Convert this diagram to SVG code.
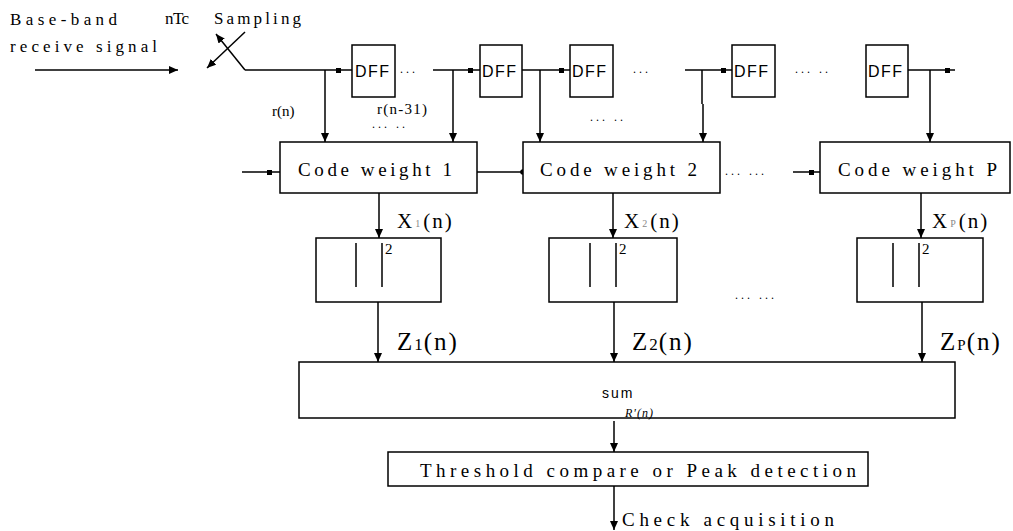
<svg xmlns="http://www.w3.org/2000/svg" width="1013" height="531" viewBox="0 0 1013 531">
  <defs>
    <marker id="arr" markerUnits="userSpaceOnUse" markerWidth="10" markerHeight="8" refX="9" refY="4" orient="auto">
      <path d="M0,0 L9,4 L0,8 z" fill="#000"/>
    </marker>
    <style>
      .ln{stroke:#000;stroke-width:1.5;fill:none}
      .ar{stroke:#000;stroke-width:1.5;fill:none;marker-end:url(#arr)}
      .box{fill:#fff;stroke:#000;stroke-width:1.5}
      .t{font-family:"Liberation Serif",serif;fill:#000}
      .s{font-family:"Liberation Sans",sans-serif;fill:#000}
      .dot{fill:#000}
      .lbl{font-family:"Liberation Serif",serif;fill:#000;font-size:21px;letter-spacing:2px}
      .zl{font-family:"Liberation Serif",serif;fill:#000;font-size:25px;letter-spacing:2px}
      .sub{fill:#888;font-size:10px}
      .dff{font-family:"Liberation Sans",sans-serif;font-size:16px;fill:#000;letter-spacing:1.5px}
      .cw{font-family:"Liberation Serif",serif;font-size:19px;fill:#000}
      .el{font-family:"Liberation Serif",serif;font-size:12px;fill:#000;letter-spacing:3px}
    </style>
  </defs>
  <rect width="1013" height="531" fill="#fff"/>

  <!-- input labels -->
  <text class="t" x="10" y="25" font-size="17" textLength="107" lengthAdjust="spacing">Base-band</text>
  <text class="t" x="10" y="52" font-size="17" textLength="147" lengthAdjust="spacing">receive signal</text>
  <text class="t" x="165" y="24" font-size="17" textLength="24" lengthAdjust="spacing">nTc</text>
  <text class="t" x="214" y="24" font-size="17" textLength="87" lengthAdjust="spacing">Sampling</text>

  <!-- connectors -->
  <g id="connectors">
    <path class="ar" d="M35,70 H178"/>
    <path class="ar" d="M245,70 L216,34"/>
    <path class="ar" d="M245,32 L207,68"/>
    <path class="ln" d="M245,70 H352"/>
    <path class="ln" d="M433,70 H480"/>
    <path class="ln" d="M522,70 H570"/>
    <path class="ln" d="M685,70 H732"/>
    <path class="ln" d="M908,70 H955"/>
    <rect class="dot" x="336" y="68" width="5" height="5"/>
    <rect class="dot" x="468" y="68" width="5" height="5"/>
    <rect class="dot" x="559" y="68" width="5" height="5"/>
    <rect class="dot" x="721" y="68" width="5" height="5"/>
    <rect class="dot" x="945" y="68" width="5" height="5"/>
    <path class="ar" d="M325,70 V142"/>
    <path class="ar" d="M453,70 V142"/>
    <path class="ar" d="M540,70 V142"/>
    <path class="ln" d="M702,70 V104"/>
    <path class="ar" d="M703,104 V142"/>
    <path class="ar" d="M930,70 V142"/>
    <path class="ln" d="M242,172 H280"/>
    <rect class="dot" x="267" y="170" width="5" height="5"/>
    <path class="ln" d="M477,172 H523"/>
    <circle class="dot" cx="523" cy="172" r="2.8"/>
    <path class="ln" d="M793,172 H820"/>
    <rect class="dot" x="809" y="170" width="5" height="5"/>
    <path class="ar" d="M379,193 V238"/>
    <path class="ar" d="M613,193 V238"/>
    <path class="ar" d="M921,193 V238"/>
    <path class="ar" d="M378,302 V362"/>
    <path class="ar" d="M614,302 V362"/>
    <path class="ar" d="M922,302 V362"/>
    <path class="ar" d="M614,421 V452"/>
    <path class="ar" d="M614,486 V530"/>
  </g>

  <!-- tap labels and ellipses -->
  <text class="t" x="272" y="116" font-size="15">r(n)</text>
  <text class="t" x="377" y="114" font-size="15" textLength="50" lengthAdjust="spacing">r(n-31)</text>
  <text class="el" x="372" y="128">... ..</text>
  <text class="el" x="590" y="121">... ..</text>
  <text class="el" x="400" y="73">...</text>
  <text class="el" x="633" y="73">...</text>
  <text class="el" x="795" y="73">... ..</text>
  <text class="el" x="725" y="175">... ...</text>
  <text class="el" x="735" y="299">... ...</text>

  <!-- delay line -->
  <g id="dff1"><rect class="box" x="352" y="45" width="43" height="52"/><text class="dff" x="355" y="77">DFF</text></g>
  <g id="dff2"><rect class="box" x="480" y="45" width="42" height="52"/><text class="dff" x="482" y="77">DFF</text></g>
  <g id="dff3"><rect class="box" x="570" y="45" width="43" height="52"/><text class="dff" x="572" y="77">DFF</text></g>
  <g id="dff4"><rect class="box" x="732" y="45" width="43" height="52"/><text class="dff" x="734" y="77">DFF</text></g>
  <g id="dff5"><rect class="box" x="866" y="45" width="42" height="52"/><text class="dff" x="868" y="77">DFF</text></g>

  <!-- code weight blocks -->
  <g id="cw1"><rect class="box" x="280" y="142" width="197" height="51"/><text class="cw" x="298" y="176" textLength="154" lengthAdjust="spacing">Code weight 1</text></g>
  <g id="cw2"><rect class="box" x="523" y="142" width="197" height="51"/><text class="cw" x="540" y="176" textLength="157" lengthAdjust="spacing">Code weight 2</text></g>
  <g id="cwP"><rect class="box" x="820" y="142" width="190" height="51"/><text class="cw" x="838" y="176" textLength="159" lengthAdjust="spacing">Code weight P</text></g>

  <!-- outputs of code weights -->
  <text class="lbl" x="397" y="228">X<tspan class="sub" dx="1" dy="-1">1</tspan><tspan dx="1" dy="1">(n)</tspan></text>
  <text class="lbl" x="624" y="228">X<tspan class="sub" dx="1" dy="-1">2</tspan><tspan dx="1" dy="1">(n)</tspan></text>
  <text class="lbl" x="932" y="228">X<tspan class="sub" dx="1" dy="-1">P</tspan><tspan dx="1" dy="1">(n)</tspan></text>

  <!-- squaring blocks -->
  <g id="sq1"><rect class="box" x="316" y="238" width="125" height="64"/><path class="ln" d="M356,243 V287 M382,243 V287"/><text class="t" x="385" y="254" font-size="15">2</text></g>
  <g id="sq2"><rect class="box" x="549" y="238" width="128" height="64"/><path class="ln" d="M590,243 V287 M616,243 V287"/><text class="t" x="619" y="254" font-size="15">2</text></g>
  <g id="sqP"><rect class="box" x="857" y="238" width="126" height="64"/><path class="ln" d="M893,243 V287 M919,243 V287"/><text class="t" x="922" y="254" font-size="15">2</text></g>

  <text class="zl" x="397" y="350">Z<tspan font-size="17" letter-spacing="1">1</tspan>(n)</text>
  <text class="zl" x="632" y="350">Z<tspan font-size="17" letter-spacing="1">2</tspan>(n)</text>
  <text class="zl" x="940" y="350">Z<tspan font-size="15" letter-spacing="1">P</tspan>(n)</text>

  <!-- sum -->
  <g id="sum">
    <rect class="box" x="299" y="362" width="656" height="56"/>
    <text class="s" x="602" y="398" font-size="14" letter-spacing="2">sum</text>
    <text class="t" x="625" y="417" font-size="12" font-style="italic" letter-spacing="1">R'(n)</text>
  </g>

  <!-- decision -->
  <g id="threshold">
    <rect class="box" x="388" y="452" width="480" height="34"/>
    <text class="t" x="420" y="477" font-size="19" textLength="436" lengthAdjust="spacing">Threshold compare or Peak detection</text>
  </g>
  <text class="t" x="622" y="526" font-size="19" textLength="212" lengthAdjust="spacing">Check acquisition</text>
</svg>
